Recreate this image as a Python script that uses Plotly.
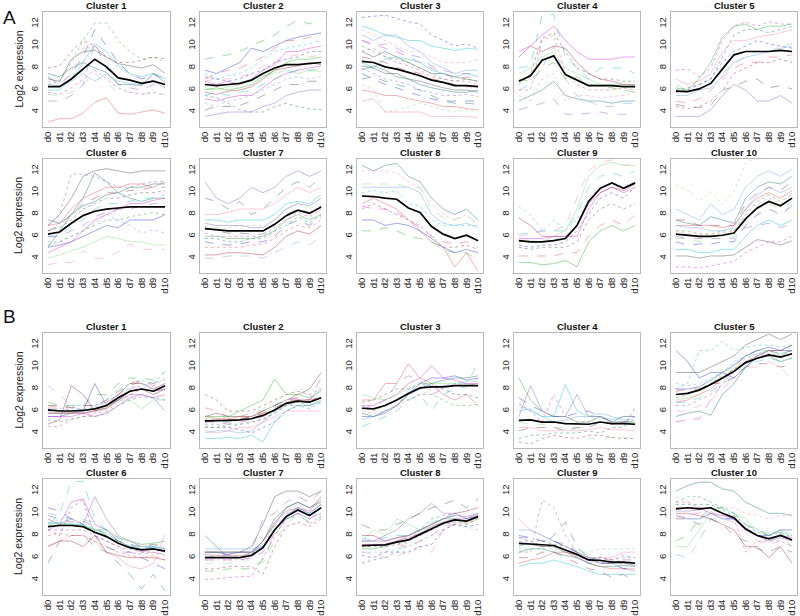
import plotly.graph_objects as go

days = ["d0", "d1", "d2", "d3", "d4", "d5", "d6", "d7", "d8", "d9", "d10"]
y_ticks = [4, 6, 8, 10, 12]

# ---------------- Panel A ----------------
A1_mean = [6.3, 6.3, 7.0, 7.9, 8.8, 8.1, 7.1, 6.9, 6.6, 6.8, 6.5]
A1_genes = [
    [3.1, 3.4, 3.4, 3.9, 4.9, 5.3, 3.9, 3.8, 4.0, 4.2, 3.9],
    [6.5, 6.8, 8.5, 10.5, 12.1, 12.1, 10.5, 9.5, 8.8, 9.0, 8.5],
    [7.2, 6.5, 7.5, 9.0, 11.5, 10.0, 8.5, 7.5, 7.0, 7.5, 7.0],
    [6.0, 6.0, 7.0, 8.5, 10.2, 9.5, 8.2, 7.5, 7.2, 7.5, 7.0],
    [5.8, 5.6, 6.2, 7.0, 7.8, 7.0, 6.2, 5.8, 5.6, 5.8, 5.5],
    [7.0, 6.8, 8.8, 9.5, 9.6, 9.0, 8.4, 8.2, 8.0, 8.3, 7.5],
    [5.0, 5.0, 5.5, 6.5, 10.3, 8.0, 6.5, 6.2, 6.0, 6.5, 6.2],
    [7.5, 7.2, 8.0, 8.5, 8.0, 7.6, 6.5, 6.5, 6.4, 7.5, 6.7],
    [6.8, 6.6, 7.5, 9.8, 10.0, 9.0, 8.0, 7.4, 7.0, 7.2, 7.3],
    [5.6, 5.5, 5.8, 6.5, 7.5, 6.6, 5.8, 5.8, 5.6, 5.8, 5.6],
    [6.5, 6.4, 6.8, 7.5, 6.8, 7.5, 6.8, 6.6, 6.5, 6.9, 6.2],
    [8.0, 8.2, 9.5, 10.5, 10.0, 9.0, 8.5, 8.5, 8.7, 9.0, 8.8],
]
A2_mean = [6.5, 6.4, 6.5, 6.6, 6.9, 7.5, 8.0, 8.3, 8.3, 8.4, 8.5]
A2_genes = [
    [8.8, 9.0, 9.2, 9.5, 10.0, 10.5, 11.0, 11.8, 12.3, 12.0, 12.5],
    [7.8, 7.5, 8.0, 8.5, 9.8, 9.5, 10.0, 10.5, 10.8, 11.0, 11.2],
    [7.5, 7.0, 7.3, 7.5, 8.0, 8.8, 9.5, 9.8, 10.0, 10.2, 10.5],
    [5.2, 5.0, 5.3, 5.5, 5.5, 6.2, 7.0, 7.5, 7.8, 8.0, 8.2],
    [4.2, 4.5, 4.5, 4.6, 5.0, 5.5, 6.0, 6.5, 6.5, 6.8, 6.8],
    [3.6, 3.8, 4.0, 4.0, 4.0, 4.5, 4.8, 5.5, 5.8, 6.0, 6.0],
    [5.5, 5.3, 4.8, 4.2, 4.0, 4.0, 4.5, 4.8, 4.5, 4.3, 4.2],
    [6.8, 7.0, 7.0, 7.2, 7.5, 8.2, 8.5, 9.0, 9.2, 9.0, 9.2],
    [6.2, 6.0, 6.3, 6.5, 6.8, 7.3, 7.5, 7.8, 7.5, 7.8, 7.7],
    [4.8, 4.5, 5.0, 5.2, 5.5, 6.0, 6.5, 7.0, 7.2, 7.0, 7.2],
    [5.8, 5.6, 5.9, 6.0, 6.3, 7.0, 7.8, 8.0, 8.2, 8.5, 8.3],
    [7.0, 7.5, 7.8, 8.0, 8.5, 9.0, 9.8, 10.5, 10.5, 10.8, 11.0],
    [6.0, 6.2, 6.0, 6.2, 6.5, 7.2, 7.8, 8.5, 8.8, 8.8, 9.0],
    [7.2, 7.0, 6.8, 7.0, 7.5, 7.8, 8.5, 8.8, 9.0, 9.5, 9.5],
    [5.5, 5.8, 5.5, 5.8, 6.0, 6.5, 7.0, 7.5, 7.8, 7.8, 8.0],
    [6.8, 6.5, 6.8, 6.5, 7.0, 7.8, 8.3, 9.5, 9.5, 9.8, 10.0],
]
A3_mean = [8.6, 8.5, 8.1, 7.9, 7.6, 7.3, 6.9, 6.7, 6.4, 6.4, 6.3]
A3_genes = [
    [12.6, 12.7, 12.8, 12.5, 12.2, 12.0, 11.0, 10.5, 10.0, 10.2, 9.8],
    [11.8, 11.5, 11.0, 10.8, 10.5, 10.5, 10.0, 9.8, 9.6, 9.8, 9.7],
    [10.5, 10.2, 9.8, 9.5, 9.0, 8.5, 8.0, 7.5, 7.0, 7.2, 7.0],
    [9.5, 9.0, 9.5, 9.0, 8.5, 8.0, 7.5, 7.5, 7.2, 7.0, 6.8],
    [8.0, 7.5, 7.0, 6.8, 6.5, 6.0, 5.8, 5.5, 5.5, 5.6, 5.4],
    [7.0, 7.2, 6.8, 6.5, 6.2, 6.0, 5.5, 5.0, 4.8, 4.8, 4.7],
    [5.0, 5.2, 4.0, 4.0, 4.0, 4.0, 3.6, 3.6, 3.6, 3.6, 3.5],
    [6.5, 6.0, 4.0, 4.2, 4.5, 4.8, 4.5, 4.2, 4.0, 4.2, 4.0],
    [11.0, 10.5, 11.0, 11.0, 10.0, 9.5, 8.5, 8.0, 7.5, 7.8, 7.8],
    [9.0, 8.8, 8.5, 8.0, 7.8, 7.5, 7.0, 6.8, 6.5, 6.3, 6.3],
    [6.0, 5.8, 5.5, 5.5, 5.2, 5.0, 4.8, 4.5, 4.5, 4.3, 4.2],
    [10.0, 9.5, 9.0, 8.8, 8.5, 8.0, 7.5, 7.0, 6.8, 7.0, 6.8],
    [7.5, 7.0, 6.5, 6.2, 5.8, 5.5, 5.2, 5.0, 5.0, 5.0, 5.0],
    [8.5, 8.0, 8.8, 9.0, 8.8, 8.5, 7.8, 7.5, 7.2, 7.5, 7.2],
    [9.5, 9.8, 9.0, 8.5, 8.2, 7.8, 7.2, 7.0, 6.8, 6.8, 6.5],
    [8.2, 8.0, 7.5, 7.5, 7.0, 6.8, 6.5, 6.2, 6.0, 6.0, 5.8],
    [10.5, 10.0, 10.2, 9.8, 9.2, 9.0, 8.2, 7.8, 7.5, 7.5, 7.5],
    [7.8, 8.2, 7.8, 7.2, 7.0, 6.5, 6.2, 6.0, 5.8, 5.8, 6.0],
    [11.5, 11.0, 10.5, 10.0, 9.5, 9.5, 9.0, 8.5, 8.5, 8.5, 8.8],
]
A4_mean = [6.8, 7.3, 8.7, 9.1, 7.4, 6.9, 6.4, 6.4, 6.4, 6.3, 6.3]
A4_genes = [
    [8.0, 8.2, 12.8, 12.9, 9.0, 8.0, 7.0, 8.0, 8.0, 8.0, 7.5],
    [9.5, 10.0, 11.0, 11.8, 10.5, 9.5, 8.8, 8.8, 8.8, 9.0, 9.0],
    [6.5, 7.5, 10.7, 11.2, 9.5, 8.0, 7.5, 7.0, 7.0, 6.8, 6.8],
    [4.2, 4.5, 4.8, 5.2, 3.8, 3.8, 3.9, 4.0, 3.8, 3.8, 3.6],
    [5.0, 5.5, 6.0, 6.8, 5.5, 5.2, 5.0, 5.0, 4.8, 5.0, 5.0],
    [5.5, 5.0, 7.0, 7.5, 5.0, 5.5, 5.5, 5.3, 5.4, 5.5, 5.8],
    [7.5, 8.0, 9.0, 9.5, 8.0, 7.5, 7.0, 6.5, 6.5, 6.5, 6.4],
    [6.0, 6.5, 8.0, 10.0, 7.0, 5.5, 5.0, 4.5, 4.5, 4.8, 4.8],
    [9.0, 10.0, 9.5, 10.0, 9.8, 8.5, 7.5, 7.0, 6.8, 6.5, 6.5],
    [6.0, 6.0, 10.5, 11.0, 7.5, 6.5, 6.0, 6.0, 6.0, 6.2, 6.0],
    [7.0, 6.8, 8.0, 8.5, 7.0, 7.2, 6.5, 6.4, 6.2, 6.0, 5.8],
]
A5_mean = [5.9, 5.85, 6.1, 6.6, 7.9, 9.2, 9.5, 9.5, 9.5, 9.6, 9.5]
A5_genes = [
    [7.8, 7.9, 7.2, 8.0, 10.5, 11.8, 12.2, 11.8, 12.2, 12.0, 12.0],
    [4.7, 4.5, 4.4, 4.6, 6.0, 6.3, 6.8, 7.0, 6.2, 6.4, 6.1],
    [3.6, 3.6, 3.6, 4.2, 5.5, 6.5, 6.0, 5.0, 5.0, 5.5, 4.8],
    [6.0, 6.2, 6.5, 7.0, 9.0, 11.0, 11.5, 11.5, 11.2, 11.5, 11.8],
    [7.0, 6.5, 6.8, 7.5, 9.5, 10.5, 10.5, 10.8, 11.0, 11.2, 11.5],
    [6.5, 6.0, 6.0, 6.5, 7.5, 8.5, 9.0, 9.5, 9.5, 10.0, 10.2],
    [5.5, 5.5, 6.0, 6.2, 7.2, 8.5, 9.0, 9.2, 9.5, 9.8, 10.0],
    [4.5, 4.3, 4.5, 5.0, 6.0, 7.5, 8.0, 8.5, 8.5, 8.8, 8.5],
    [5.0, 4.8, 5.2, 6.0, 7.0, 8.0, 8.5, 8.5, 9.0, 9.0, 9.2],
    [6.2, 6.0, 7.0, 8.5, 10.8, 11.8, 12.0, 11.5, 11.8, 11.8, 12.0],
    [5.8, 6.0, 6.5, 7.0, 8.5, 9.5, 10.0, 10.5, 10.2, 10.0, 9.8],
]
A6_mean = [6.2, 6.4, 7.2, 7.9, 8.3, 8.5, 8.6, 8.7, 8.7, 8.7, 8.7]
A6_genes = [
    [7.0, 8.0, 9.5, 11.5, 12.0, 12.2, 12.0, 11.8, 12.0, 12.0, 12.0],
    [7.0, 8.0, 11.7, 11.7, 11.5, 11.0, 10.5, 10.5, 10.8, 11.0, 11.0],
    [5.0, 6.5, 8.0, 9.5, 11.8, 11.0, 10.0, 9.5, 9.2, 9.5, 9.5],
    [3.4, 3.6, 3.6, 4.7, 4.0, 4.0, 4.6, 5.3, 4.8, 4.8, 4.8],
    [4.0, 4.3, 4.7, 5.0, 5.5, 6.0, 5.8, 5.5, 5.5, 5.2, 5.2],
    [5.5, 5.5, 6.0, 6.5, 7.2, 8.0, 7.5, 7.0, 6.3, 6.6, 6.3],
    [6.5, 7.0, 8.0, 9.0, 9.5, 10.0, 10.0, 10.2, 10.3, 10.5, 10.5],
    [7.0, 7.2, 8.5, 9.5, 10.0, 10.5, 10.5, 10.8, 10.8, 10.5, 11.0],
    [5.2, 5.5, 6.0, 6.5, 7.0, 7.5, 7.5, 7.8, 8.0, 8.2, 8.0],
    [5.0, 5.2, 5.5, 6.0, 6.5, 7.0, 6.8, 7.5, 7.5, 7.5, 8.0],
    [6.0, 6.0, 7.0, 7.5, 8.5, 9.0, 9.0, 9.2, 9.5, 9.5, 9.8],
    [4.5, 5.0, 5.5, 6.5, 7.5, 8.0, 8.5, 9.0, 9.0, 9.3, 9.5],
    [6.5, 6.8, 7.5, 8.5, 9.0, 9.5, 9.5, 9.8, 10.0, 10.0, 10.2],
    [6.0, 6.0, 6.5, 7.0, 7.8, 8.2, 8.5, 8.5, 8.8, 9.0, 9.0],
    [7.5, 7.2, 8.0, 8.8, 9.2, 9.8, 10.0, 10.5, 10.5, 10.8, 10.8],
]
A7_mean = [6.7, 6.6, 6.5, 6.5, 6.5, 6.5, 7.1, 7.9, 8.4, 8.1, 8.7]
A7_genes = [
    [11.0, 9.5, 9.0, 9.5, 10.5, 10.0, 10.5, 11.5, 12.0, 11.5, 12.0],
    [9.5, 9.2, 8.5, 9.2, 8.0, 8.5, 9.5, 10.5, 11.0, 10.5, 11.5],
    [8.0, 8.0, 8.2, 8.5, 8.5, 8.5, 9.0, 9.8, 10.5, 10.0, 10.5],
    [7.0, 6.8, 6.8, 7.0, 7.0, 7.0, 7.5, 8.5, 9.0, 8.5, 9.2],
    [4.0, 4.0, 4.2, 4.2, 4.2, 4.0, 4.5, 5.0, 5.5, 5.2, 6.0],
    [4.3, 4.3, 4.5, 4.5, 4.4, 4.3, 5.0, 6.0, 6.5, 6.2, 7.0],
    [5.0, 5.0, 5.0, 5.0, 5.2, 5.3, 5.8, 6.5, 7.0, 6.8, 7.5],
    [6.0, 6.0, 5.8, 5.8, 5.8, 6.0, 6.5, 7.5, 8.0, 7.5, 8.0],
    [5.5, 5.3, 5.2, 5.3, 5.5, 5.5, 6.0, 7.0, 7.5, 7.0, 7.8],
    [7.5, 7.5, 7.3, 7.5, 7.5, 7.5, 8.0, 9.0, 9.2, 9.0, 9.8],
    [6.3, 6.0, 6.0, 6.0, 6.0, 6.0, 6.8, 7.5, 8.2, 7.8, 8.5],
    [6.8, 6.5, 6.3, 6.3, 6.2, 6.2, 7.0, 8.0, 8.5, 8.2, 8.8],
    [7.2, 7.0, 7.0, 7.0, 6.8, 6.8, 7.5, 8.5, 9.0, 8.8, 9.5],
    [5.8, 5.8, 5.5, 5.5, 5.8, 5.8, 6.5, 7.0, 7.8, 7.2, 8.0],
]
A8_mean = [9.7, 9.65, 9.5, 9.4, 8.6, 8.2, 6.9, 6.2, 5.8, 6.1, 5.6]
A8_genes = [
    [12.5, 12.0, 12.5, 12.7, 11.5, 11.0, 9.5, 8.5, 8.0, 8.5, 7.5],
    [12.0, 12.0, 12.0, 11.8, 11.0, 10.5, 9.0, 8.0, 7.5, 8.0, 7.0],
    [10.8, 10.8, 10.8, 10.8, 10.5, 10.5, 8.5, 7.7, 7.5, 8.0, 7.0],
    [10.5, 10.5, 10.5, 10.5, 10.5, 10.0, 8.0, 7.2, 7.0, 7.2, 6.8],
    [8.5, 9.0, 8.5, 8.0, 7.5, 7.0, 6.0, 5.0, 5.0, 5.2, 4.8],
    [9.0, 9.5, 9.0, 8.5, 7.5, 6.5, 5.5, 5.0, 3.2, 4.5, 2.8],
    [6.5, 6.5, 6.8, 6.5, 6.0, 5.8, 5.5, 4.8, 4.5, 4.5, 3.8],
    [7.5, 7.5, 7.0, 7.2, 7.0, 6.5, 5.8, 5.0, 4.5, 4.8, 4.5],
    [10.0, 10.2, 10.0, 10.2, 9.0, 8.8, 7.5, 7.0, 7.0, 7.0, 7.0],
    [8.8, 8.5, 8.5, 8.2, 7.5, 6.8, 6.0, 5.5, 5.3, 5.5, 5.0],
]
A9_mean = [5.6, 5.5, 5.5, 5.6, 5.8, 7.0, 9.2, 10.4, 10.9, 10.4, 10.9]
A9_genes = [
    [6.0, 6.2, 6.5, 6.5, 7.0, 9.5, 12.0, 12.8, 13.0, 12.5, 12.8],
    [5.5, 5.6, 5.5, 6.0, 6.5, 8.5, 11.5, 12.5, 12.8, 12.5, 12.5],
    [8.7, 8.0, 6.5, 7.5, 6.5, 7.5, 9.5, 10.5, 11.0, 10.5, 11.0],
    [7.7, 7.0, 6.0, 6.0, 6.0, 7.0, 9.0, 10.0, 10.5, 10.2, 10.8],
    [4.2, 4.2, 4.2, 4.2, 4.5, 4.5, 6.0, 7.0, 7.5, 7.0, 8.0],
    [3.6, 3.6, 3.4, 3.5, 3.8, 3.2, 5.5, 6.5, 7.0, 6.5, 7.0],
    [5.2, 5.0, 5.2, 5.2, 5.5, 6.5, 8.0, 9.5, 10.0, 9.5, 10.5],
    [6.2, 6.3, 6.5, 6.5, 6.5, 8.0, 10.5, 11.5, 11.8, 11.5, 12.0],
    [5.8, 5.8, 5.8, 6.0, 6.0, 6.0, 8.5, 10.0, 10.5, 10.0, 10.5],
    [5.0, 4.8, 5.0, 5.0, 5.0, 5.5, 7.5, 8.5, 9.0, 8.5, 9.0],
]
A10_mean = [6.2, 6.1, 6.0, 6.0, 6.1, 6.3, 7.6, 8.6, 9.2, 8.8, 9.5]
A10_genes = [
    [10.7, 10.2, 9.2, 10.1, 8.9, 10.1, 12.7, 13.2, 13.2, 13.2, 13.2],
    [8.5, 8.0, 7.5, 9.0, 8.0, 8.5, 10.5, 11.5, 12.0, 11.5, 12.2],
    [7.5, 7.5, 7.0, 7.0, 7.0, 7.0, 9.0, 10.0, 10.5, 10.2, 11.0],
    [7.0, 7.0, 7.0, 7.0, 6.8, 7.0, 8.5, 9.5, 10.0, 9.5, 10.2],
    [6.5, 6.5, 6.2, 6.2, 6.5, 6.5, 8.0, 9.2, 9.8, 9.2, 9.8],
    [5.5, 5.2, 5.3, 5.3, 5.5, 5.5, 7.0, 8.0, 8.5, 8.0, 8.8],
    [4.8, 4.8, 4.5, 4.5, 4.8, 4.8, 6.0, 7.0, 7.5, 7.0, 7.5],
    [3.2, 3.2, 3.1, 3.3, 3.5, 3.7, 4.5, 5.0, 5.5, 5.5, 6.0],
    [4.2, 4.2, 4.0, 4.2, 4.2, 4.3, 5.0, 5.7, 5.5, 5.2, 5.6],
    [6.0, 5.8, 5.8, 5.8, 5.8, 5.8, 6.8, 7.0, 7.2, 6.8, 7.2],
    [7.5, 7.2, 7.0, 7.8, 7.5, 7.2, 9.5, 10.5, 11.0, 10.8, 11.5],
    [6.5, 6.3, 6.3, 6.2, 6.3, 6.5, 8.0, 9.0, 9.5, 9.0, 10.0],
    [5.8, 5.8, 5.5, 5.8, 5.8, 6.0, 7.5, 8.5, 9.0, 8.5, 9.2],
    [7.0, 6.8, 6.8, 6.5, 6.5, 6.8, 8.5, 9.8, 10.5, 10.0, 10.5],
]

# ---------------- Panel B ----------------
B1_mean = [6.1, 6.0, 6.0, 6.05, 6.2, 6.5, 7.2, 7.8, 8.0, 7.8, 8.3]
B1_genes = [
    [8.3, 7.5, 6.5, 6.0, 6.5, 6.8, 7.5, 8.0, 8.5, 8.2, 9.0],
    [4.8, 5.2, 8.3, 7.5, 6.0, 6.5, 7.5, 8.5, 8.5, 8.0, 8.5],
    [4.6, 4.6, 5.2, 5.5, 5.8, 6.0, 6.8, 7.5, 8.0, 7.8, 8.0],
    [6.8, 6.5, 6.5, 6.5, 7.5, 7.5, 8.5, 9.0, 9.0, 8.8, 9.6],
    [5.5, 5.5, 5.8, 6.0, 8.5, 6.5, 7.0, 7.8, 8.0, 7.8, 8.0],
    [6.0, 6.2, 6.5, 6.5, 6.5, 7.0, 8.0, 8.5, 8.8, 8.5, 9.5],
    [5.5, 5.5, 5.5, 5.8, 5.5, 5.8, 6.5, 7.2, 7.5, 7.2, 7.5],
    [6.5, 6.5, 6.3, 6.5, 6.5, 7.0, 7.8, 8.3, 8.7, 8.5, 9.0],
    [5.8, 5.8, 5.9, 5.8, 6.0, 6.2, 7.0, 7.5, 7.5, 7.2, 6.0],
    [5.2, 5.0, 5.3, 5.5, 5.5, 5.8, 6.5, 7.0, 7.3, 7.2, 7.0],
    [6.3, 6.2, 6.0, 6.0, 6.3, 6.5, 7.5, 8.0, 8.3, 7.8, 8.5],
    [6.0, 5.8, 5.8, 6.0, 6.2, 6.2, 7.0, 7.0, 6.2, 7.0, 7.0],
    [6.2, 6.0, 6.2, 6.2, 6.3, 6.8, 7.5, 8.2, 8.2, 8.0, 8.5],
    [5.8, 5.8, 5.8, 5.8, 6.0, 6.3, 7.0, 7.8, 8.0, 7.5, 8.0],
    [6.5, 6.3, 6.3, 6.5, 6.5, 6.8, 7.5, 8.5, 8.8, 8.3, 8.8],
]
B2_mean = [5.1, 5.1, 5.15, 5.2, 5.3, 5.6, 6.1, 6.7, 6.9, 6.8, 7.2]
B2_genes = [
    [7.5, 7.0, 6.0, 6.0, 6.0, 6.5, 7.0, 7.5, 7.8, 7.5, 8.0],
    [6.3, 6.0, 5.5, 5.5, 5.8, 6.0, 6.5, 7.0, 7.2, 7.0, 8.0],
    [5.5, 5.5, 5.5, 6.0, 6.5, 7.0, 8.9, 7.5, 7.5, 7.2, 7.8],
    [4.5, 4.5, 4.5, 4.3, 4.0, 4.5, 5.0, 6.0, 6.5, 6.5, 7.0],
    [3.5, 3.5, 3.6, 3.5, 3.8, 3.2, 5.0, 6.0, 6.5, 6.5, 6.8],
    [5.0, 5.0, 4.8, 5.0, 5.2, 5.5, 6.0, 7.0, 7.2, 7.0, 9.0],
    [5.5, 5.8, 5.5, 5.5, 5.5, 6.0, 6.5, 7.0, 7.5, 8.0, 9.5],
    [4.8, 4.8, 4.5, 4.8, 5.0, 5.2, 5.8, 6.5, 6.5, 6.2, 6.8],
    [5.2, 5.0, 5.0, 5.2, 5.5, 6.0, 6.5, 7.0, 7.0, 6.8, 7.5],
    [4.2, 4.0, 4.2, 4.5, 4.5, 5.0, 5.5, 6.0, 6.0, 6.0, 6.0],
    [5.3, 5.3, 5.5, 5.5, 5.8, 6.2, 6.8, 7.5, 8.0, 7.8, 8.2],
    [4.0, 4.2, 4.2, 4.0, 4.2, 5.0, 6.0, 6.5, 7.0, 7.0, 8.0],
    [5.0, 5.2, 5.2, 5.3, 5.5, 5.8, 6.3, 6.8, 7.0, 6.8, 7.5],
    [5.5, 5.3, 5.3, 5.5, 5.5, 5.8, 6.0, 6.8, 7.0, 7.0, 7.2],
    [4.6, 4.5, 4.8, 4.8, 5.0, 5.3, 5.8, 6.5, 6.8, 6.5, 7.0],
]
B3_mean = [6.25, 6.2, 6.5, 7.0, 7.6, 8.1, 8.2, 8.2, 8.3, 8.3, 8.3]
B3_genes = [
    [7.0, 7.0, 8.5, 8.5, 10.3, 9.0, 8.5, 7.5, 7.0, 7.5, 6.5],
    [6.5, 6.0, 6.5, 7.0, 7.0, 7.5, 7.5, 7.0, 6.5, 6.5, 6.6],
    [5.5, 5.5, 5.8, 6.5, 7.5, 8.5, 9.0, 9.0, 9.2, 8.8, 9.0],
    [4.6, 5.0, 5.5, 6.0, 7.0, 7.5, 6.0, 7.5, 8.0, 8.2, 10.5],
    [6.5, 6.5, 7.0, 7.5, 8.5, 9.0, 10.1, 9.0, 8.8, 8.5, 8.5],
    [6.8, 7.0, 7.5, 8.0, 8.0, 8.5, 8.5, 8.0, 7.5, 7.5, 7.2],
    [6.2, 6.5, 7.0, 8.5, 9.2, 8.8, 7.5, 8.0, 8.5, 8.3, 8.5],
    [5.8, 5.5, 6.0, 6.5, 7.5, 8.0, 8.5, 8.8, 9.0, 9.0, 9.2],
    [6.0, 5.8, 6.0, 6.5, 7.0, 7.5, 8.0, 8.0, 8.3, 8.5, 8.5],
    [7.5, 7.2, 7.0, 7.5, 8.0, 8.5, 8.5, 8.5, 8.5, 8.7, 8.7],
    [5.2, 5.5, 6.0, 7.0, 7.8, 8.5, 8.3, 8.3, 8.5, 8.5, 9.0],
]
B4_mean = [5.15, 5.2, 5.0, 5.0, 4.85, 4.8, 4.8, 5.0, 4.85, 4.85, 4.8]
B4_genes = [
    [9.0, 7.0, 6.0, 5.5, 5.5, 5.0, 5.0, 5.5, 5.0, 5.0, 5.0],
    [7.2, 6.5, 6.0, 5.5, 5.5, 5.8, 6.0, 5.5, 5.0, 5.0, 5.2],
    [6.5, 6.0, 5.5, 5.5, 8.4, 6.0, 5.5, 5.5, 5.2, 5.5, 5.5],
    [6.7, 6.0, 5.0, 7.5, 5.5, 5.0, 5.0, 5.5, 5.0, 5.0, 5.5],
    [4.2, 4.5, 4.5, 4.5, 4.2, 4.5, 4.5, 5.0, 4.8, 5.0, 5.0],
    [5.5, 8.3, 6.0, 5.5, 5.5, 7.5, 5.5, 5.5, 5.0, 5.5, 5.5],
    [3.5, 3.8, 3.8, 4.0, 4.0, 4.0, 4.2, 4.0, 4.5, 4.5, 6.3],
    [4.5, 4.5, 4.2, 4.2, 4.3, 4.2, 4.3, 4.5, 4.3, 4.3, 4.2],
    [5.0, 4.8, 4.8, 4.5, 4.5, 4.5, 3.5, 3.5, 3.6, 3.6, 3.5],
    [6.0, 6.2, 5.5, 5.0, 5.2, 5.5, 5.5, 5.8, 5.5, 5.2, 5.2],
    [3.2, 3.0, 3.5, 3.8, 3.6, 3.5, 3.8, 3.8, 3.6, 3.5, 3.5],
]
B5_mean = [7.5, 7.6, 7.9, 8.4, 9.0, 9.6, 10.4, 10.8, 11.1, 10.9, 11.2]
B5_genes = [
    [11.5, 10.5, 9.0, 9.5, 9.5, 9.0, 10.0, 11.0, 11.5, 11.5, 11.5],
    [8.0, 8.5, 11.5, 11.5, 12.3, 11.5, 11.8, 12.0, 12.0, 11.8, 12.0],
    [5.0, 5.2, 5.3, 7.0, 8.5, 10.0, 11.0, 11.5, 11.5, 11.2, 11.5],
    [9.5, 9.5, 9.5, 10.0, 10.5, 11.0, 12.0, 12.5, 13.0, 12.5, 13.0],
    [6.5, 6.5, 7.0, 7.5, 8.5, 9.5, 10.5, 11.0, 11.2, 11.0, 11.5],
    [5.5, 5.8, 6.0, 5.6, 7.5, 8.5, 10.0, 10.8, 11.0, 10.5, 10.8],
    [6.0, 6.0, 6.5, 7.0, 8.0, 9.0, 10.0, 10.0, 10.5, 10.0, 8.8],
    [7.0, 7.2, 7.5, 8.5, 9.5, 10.0, 11.0, 11.5, 11.5, 11.0, 11.8],
    [8.5, 8.3, 8.5, 9.0, 9.5, 10.5, 11.0, 11.2, 11.5, 11.2, 11.5],
    [7.8, 8.0, 8.0, 8.5, 8.5, 9.0, 10.0, 10.3, 10.3, 10.0, 10.2],
    [6.8, 7.0, 7.5, 8.0, 9.0, 9.8, 10.5, 11.0, 11.5, 11.5, 12.0],
    [7.2, 7.5, 8.0, 8.5, 9.2, 9.8, 10.8, 11.2, 11.5, 11.2, 11.5],
    [8.0, 8.0, 8.2, 8.8, 9.5, 10.2, 11.0, 11.5, 11.8, 11.5, 12.0],
    [6.8, 6.8, 7.2, 7.8, 8.5, 9.2, 10.0, 10.5, 10.8, 10.5, 10.8],
]
B6_mean = [8.8, 8.9, 8.9, 8.8, 8.3, 7.9, 7.3, 6.9, 6.7, 6.8, 6.6]
B6_genes = [
    [9.0, 10.0, 12.8, 12.9, 9.5, 8.5, 7.5, 7.0, 6.8, 7.0, 6.8],
    [9.5, 9.0, 11.0, 11.3, 9.0, 8.5, 7.5, 7.0, 6.5, 6.8, 6.5],
    [8.5, 8.0, 10.5, 11.2, 8.0, 7.5, 7.0, 6.8, 6.5, 6.5, 6.3],
    [8.5, 9.0, 9.5, 9.0, 11.5, 9.5, 8.0, 7.5, 7.0, 7.0, 6.8],
    [5.5, 7.5, 8.0, 8.0, 7.0, 6.5, 5.5, 4.5, 3.2, 4.5, 3.0],
    [7.0, 7.5, 8.0, 8.0, 7.5, 6.5, 6.0, 5.2, 5.0, 5.5, 8.1],
    [9.5, 9.5, 9.5, 9.0, 8.5, 8.0, 7.5, 7.0, 7.0, 7.2, 7.0],
    [10.0, 9.8, 9.5, 9.5, 9.0, 8.5, 7.8, 7.2, 6.8, 7.0, 6.5],
    [7.0, 7.5, 7.5, 7.0, 8.0, 6.5, 6.2, 6.0, 6.0, 6.0, 5.8],
    [8.0, 8.2, 8.0, 8.0, 7.5, 7.0, 6.5, 6.2, 6.0, 6.2, 5.8],
    [9.2, 9.0, 9.0, 8.8, 8.5, 8.5, 7.8, 7.5, 7.2, 7.3, 7.5],
    [10.5, 10.2, 9.5, 9.0, 8.0, 7.0, 6.5, 6.5, 6.0, 5.5, 5.0],
    [9.0, 9.2, 9.0, 9.0, 8.5, 8.2, 7.5, 7.0, 6.8, 7.0, 6.8],
    [8.5, 8.5, 8.5, 8.5, 8.0, 7.5, 7.0, 6.5, 6.3, 6.5, 6.2],
    [9.8, 9.5, 9.2, 9.3, 8.8, 8.0, 7.5, 7.2, 7.0, 7.2, 7.0],
]
B7_mean = [6.0, 6.0, 6.0, 6.0, 6.2, 6.9, 8.5, 9.7, 10.3, 9.8, 10.5]
B7_genes = [
    [4.0, 4.1, 4.2, 4.3, 4.3, 6.0, 8.0, 9.5, 10.0, 9.0, 9.8],
    [6.5, 6.5, 6.5, 6.5, 7.0, 9.0, 11.5, 12.0, 12.0, 11.5, 12.0],
    [6.0, 6.2, 6.3, 6.5, 6.5, 9.5, 10.0, 11.0, 11.5, 11.0, 12.0],
    [8.0, 7.0, 6.0, 6.0, 6.5, 7.5, 9.5, 10.5, 11.0, 10.5, 11.0],
    [5.8, 5.8, 5.8, 5.8, 6.0, 7.0, 9.0, 10.0, 10.8, 10.2, 10.8],
    [5.5, 5.5, 5.5, 5.8, 5.8, 5.5, 7.5, 9.0, 10.0, 9.5, 10.0],
    [6.8, 6.8, 6.8, 6.8, 6.8, 7.0, 8.5, 9.5, 10.0, 9.5, 10.0],
    [5.0, 5.0, 5.2, 5.2, 5.2, 4.5, 7.0, 8.8, 9.2, 8.8, 9.5],
    [6.3, 6.2, 6.2, 6.2, 6.3, 7.5, 9.2, 10.2, 10.5, 10.2, 11.5],
    [4.8, 4.8, 5.0, 5.0, 5.0, 5.8, 8.0, 9.5, 9.8, 9.2, 9.7],
    [6.5, 6.5, 6.3, 6.5, 6.5, 7.0, 8.5, 9.8, 10.5, 10.0, 10.8],
    [6.2, 6.0, 6.2, 6.0, 6.3, 7.2, 8.8, 10.0, 10.5, 10.0, 10.8],
    [5.8, 5.8, 5.8, 5.8, 6.0, 6.5, 8.2, 9.5, 10.0, 9.5, 10.2],
    [6.5, 6.5, 6.5, 6.5, 6.5, 7.5, 9.0, 10.5, 11.0, 10.5, 11.2],
]
B8_mean = [7.1, 7.1, 7.15, 7.4, 7.6, 8.1, 8.6, 9.1, 9.4, 9.3, 9.7]
B8_genes = [
    [9.0, 8.5, 8.5, 9.0, 9.5, 10.0, 10.5, 10.8, 11.2, 10.5, 11.3],
    [7.5, 7.5, 8.0, 8.5, 9.5, 10.0, 10.9, 10.0, 10.0, 9.5, 10.0],
    [5.5, 5.8, 6.0, 6.5, 7.5, 8.5, 9.5, 9.8, 10.0, 9.5, 9.8],
    [6.5, 6.3, 6.0, 6.2, 6.5, 7.0, 6.5, 8.5, 9.0, 9.5, 9.5],
    [7.5, 8.5, 8.0, 9.5, 9.0, 8.5, 8.8, 9.2, 9.5, 9.0, 9.5],
    [6.5, 6.5, 6.5, 6.8, 7.0, 7.5, 8.0, 8.5, 9.0, 8.8, 8.5],
    [8.0, 8.0, 7.5, 7.8, 8.0, 8.5, 9.0, 9.5, 10.0, 10.2, 10.5],
    [7.0, 7.0, 7.2, 7.2, 7.0, 7.5, 8.0, 8.8, 9.0, 9.2, 9.5],
    [6.8, 6.8, 7.0, 7.5, 8.0, 8.5, 9.0, 9.5, 9.5, 9.3, 9.8],
    [6.2, 6.0, 6.5, 6.5, 6.5, 7.0, 7.2, 8.5, 9.0, 8.8, 9.0],
    [7.8, 7.5, 7.8, 8.0, 8.0, 8.5, 9.2, 9.5, 9.8, 9.5, 10.0],
    [7.2, 7.2, 7.2, 7.5, 7.8, 8.2, 8.8, 9.2, 9.5, 9.5, 9.8],
    [7.0, 7.0, 7.0, 7.2, 7.5, 8.0, 8.5, 9.0, 9.2, 9.0, 9.5],
    [7.5, 7.5, 7.5, 7.8, 8.0, 8.5, 9.0, 9.5, 9.8, 9.7, 10.0],
]
B9_mean = [7.3, 7.25, 7.15, 7.1, 6.7, 6.3, 5.8, 5.75, 5.6, 5.6, 5.5]
B9_genes = [
    [6.5, 6.5, 11.2, 10.5, 8.0, 6.5, 6.0, 5.5, 5.5, 5.5, 5.5],
    [7.0, 7.5, 7.0, 8.0, 9.2, 7.0, 6.0, 5.8, 5.5, 5.8, 5.5],
    [9.5, 8.5, 8.0, 7.5, 7.0, 6.5, 6.0, 6.0, 6.0, 6.5, 6.5],
    [6.8, 6.8, 6.8, 6.8, 6.5, 6.5, 6.5, 6.8, 6.8, 6.8, 6.8],
    [8.5, 8.5, 8.0, 7.5, 7.0, 6.5, 6.0, 5.8, 5.5, 5.0, 4.8],
    [6.0, 6.0, 6.5, 6.5, 6.0, 5.5, 5.0, 4.8, 4.2, 4.5, 3.8],
    [5.5, 5.8, 6.0, 6.5, 6.5, 6.0, 5.5, 5.2, 5.0, 5.0, 5.0],
    [7.8, 7.5, 7.5, 7.2, 7.0, 6.8, 6.0, 6.0, 5.8, 6.0, 6.0],
    [8.0, 7.8, 7.5, 7.5, 7.0, 6.5, 5.5, 5.5, 5.5, 5.0, 5.2],
    [5.2, 5.5, 5.5, 5.8, 5.5, 5.2, 4.8, 4.5, 4.5, 4.5, 4.5],
    [7.5, 7.5, 7.0, 7.0, 6.8, 6.0, 5.8, 6.0, 5.8, 6.2, 6.0],
    [7.2, 7.2, 7.0, 7.0, 6.5, 6.2, 5.8, 5.5, 5.5, 5.5, 5.3],
    [7.8, 7.8, 7.5, 7.5, 7.2, 6.5, 6.0, 5.8, 5.8, 5.8, 5.8],
    [6.5, 6.8, 6.8, 6.5, 6.2, 6.0, 5.5, 5.2, 5.2, 5.3, 5.2],
]
B10_mean = [10.4, 10.5, 10.4, 10.5, 10.0, 9.6, 8.6, 8.0, 7.7, 8.0, 7.6]
B10_genes = [
    [12.0, 12.5, 12.8, 12.8, 12.2, 12.0, 11.0, 10.5, 10.0, 10.0, 9.8],
    [11.5, 11.0, 11.5, 11.0, 10.5, 10.5, 10.0, 9.8, 9.5, 9.8, 9.8],
    [7.0, 7.0, 8.5, 10.0, 10.5, 10.0, 9.5, 8.5, 8.0, 8.5, 8.0],
    [6.3, 6.0, 7.5, 9.5, 9.5, 9.5, 8.5, 8.0, 7.5, 8.0, 7.0],
    [10.0, 10.0, 9.8, 9.5, 9.0, 8.5, 7.0, 7.0, 6.0, 7.0, 5.5],
    [11.0, 11.0, 10.5, 10.5, 10.0, 9.5, 6.5, 7.5, 7.5, 7.5, 7.0],
    [7.5, 8.0, 9.5, 10.5, 10.5, 10.0, 9.0, 8.5, 8.0, 8.2, 7.5],
    [9.8, 9.5, 9.5, 10.0, 9.5, 9.5, 8.5, 8.0, 8.0, 8.5, 8.5],
    [11.0, 11.5, 11.5, 11.0, 10.5, 10.0, 9.0, 8.5, 8.2, 8.3, 8.0],
    [10.5, 10.5, 10.5, 10.0, 9.8, 9.5, 8.5, 8.0, 7.8, 8.0, 7.8],
    [9.5, 9.5, 9.0, 9.5, 9.0, 8.0, 7.5, 6.8, 6.5, 7.0, 6.5],
    [10.2, 10.2, 10.3, 10.5, 10.0, 9.5, 8.5, 8.0, 7.5, 7.8, 7.5],
    [10.8, 10.8, 10.8, 10.8, 10.3, 9.8, 9.0, 8.3, 8.0, 8.3, 7.8],
    [9.5, 10.0, 10.0, 10.2, 9.5, 9.2, 8.2, 7.5, 7.2, 7.5, 7.0],
]

panels = [
    ("Cluster 1", A1_mean, A1_genes), ("Cluster 2", A2_mean, A2_genes),
    ("Cluster 3", A3_mean, A3_genes), ("Cluster 4", A4_mean, A4_genes),
    ("Cluster 5", A5_mean, A5_genes), ("Cluster 6", A6_mean, A6_genes),
    ("Cluster 7", A7_mean, A7_genes), ("Cluster 8", A8_mean, A8_genes),
    ("Cluster 9", A9_mean, A9_genes), ("Cluster 10", A10_mean, A10_genes),
    ("Cluster 1", B1_mean, B1_genes), ("Cluster 2", B2_mean, B2_genes),
    ("Cluster 3", B3_mean, B3_genes), ("Cluster 4", B4_mean, B4_genes),
    ("Cluster 5", B5_mean, B5_genes), ("Cluster 6", B6_mean, B6_genes),
    ("Cluster 7", B7_mean, B7_genes), ("Cluster 8", B8_mean, B8_genes),
    ("Cluster 9", B9_mean, B9_genes), ("Cluster 10", B10_mean, B10_genes),
]

# ---------------- styling ----------------
W, H = 800, 616
col_px = [(43, 170), (200, 326), (357, 483), (514, 640), (671, 797)]
row_px = [(12, 127), (159, 273), (333, 448), (479, 595)]
palette = ["rgba(235,90,100,0.6)", "rgba(60,180,60,0.6)", "rgba(60,70,220,0.6)",
           "rgba(40,200,210,0.6)", "rgba(220,60,220,0.6)", "rgba(90,90,90,0.6)",
           "rgba(140,90,200,0.55)", "rgba(40,130,120,0.6)", "rgba(250,130,170,0.55)",
           "rgba(120,220,120,0.55)", "rgba(100,160,240,0.55)", "rgba(170,40,60,0.55)"]
dashes = ["solid", "dot", "dash", "solid", "dot", "solid", "dash"]
FONT = "Liberation Sans Narrow, Arial Narrow, Liberation Sans, Arial, sans-serif"

fig = go.Figure()
layout = dict(width=W, height=H, margin=dict(l=0, r=0, t=0, b=0),
              paper_bgcolor="white", plot_bgcolor="white", showlegend=False,
              font=dict(family=FONT, color="#222"))
annotations = []

for i, (title, mean, genes) in enumerate(panels):
    r, c = divmod(i, 5)
    k = i + 1
    xs = "x" if k == 1 else f"x{k}"
    ys = "y" if k == 1 else f"y{k}"
    for j, g in enumerate(genes):
        fig.add_trace(go.Scatter(x=list(range(len(days))), y=g, mode="lines",
                                 xaxis=xs, yaxis=ys, hoverinfo="skip",
                                 line=dict(color=palette[(j + i) % len(palette)], width=0.8,
                                           dash=dashes[(j + 2 * i) % len(dashes)])))
    fig.add_trace(go.Scatter(x=list(range(len(days))), y=mean, mode="lines",
                             xaxis=xs, yaxis=ys, line=dict(color="black", width=1.7)))
    x0, x1 = col_px[c]
    y0, y1 = row_px[r]
    xd = [x0 / W, x1 / W]
    yd = [1 - y1 / H, 1 - y0 / H]
    layout["xaxis" if k == 1 else f"xaxis{k}"] = dict(
        domain=xd, range=[-0.42, 10.42], anchor=ys, tickmode="array",
        tickvals=list(range(len(days))), ticktext=days, tickangle=-90,
        showgrid=False, zeroline=False, showline=True, mirror=True,
        linecolor="#b8b8b8", linewidth=1, ticks="", tickfont=dict(size=9.5, color="#222"))
    layout["yaxis" if k == 1 else f"yaxis{k}"] = dict(
        domain=yd, range=[2.64, 13.09], anchor=xs, tickmode="array",
        tickvals=y_ticks, ticktext=[str(v) for v in y_ticks], tickangle=-90,
        showgrid=False, zeroline=False, showline=True, mirror=True,
        linecolor="#b8b8b8", linewidth=1, ticks="", tickfont=dict(size=9.5, color="#222"))
    annotations.append(dict(text=f"<b>{title}</b>", x=(xd[0] + xd[1]) / 2, y=yd[1],
                            xref="paper", yref="paper", xanchor="center", yanchor="bottom",
                            yshift=-1, showarrow=False, font=dict(size=9.5, color="#111")))

for (y0, y1) in row_px:
    annotations.append(dict(text="Log2 expression", x=18 / W, y=1 - (y0 + y1) / 2 / H,
                            xref="paper", yref="paper", textangle=-90, showarrow=False,
                            xanchor="center", yanchor="middle",
                            font=dict(size=10.5, color="#222")))
annotations.append(dict(text="A", x=9 / W, y=1 - 17 / H, xref="paper", yref="paper",
                        showarrow=False, xanchor="center", yanchor="middle",
                        font=dict(size=19, color="#111", family="Liberation Sans, Arial")))
annotations.append(dict(text="B", x=9 / W, y=1 - 316 / H, xref="paper", yref="paper",
                        showarrow=False, xanchor="center", yanchor="middle",
                        font=dict(size=19, color="#111", family="Liberation Sans, Arial")))
layout["annotations"] = annotations
fig.update_layout(**layout)
fig.write_html("out.html", config={"displayModeBar": False},
               post_script="document.body.style.margin='0';document.body.style.overflow='hidden';")
